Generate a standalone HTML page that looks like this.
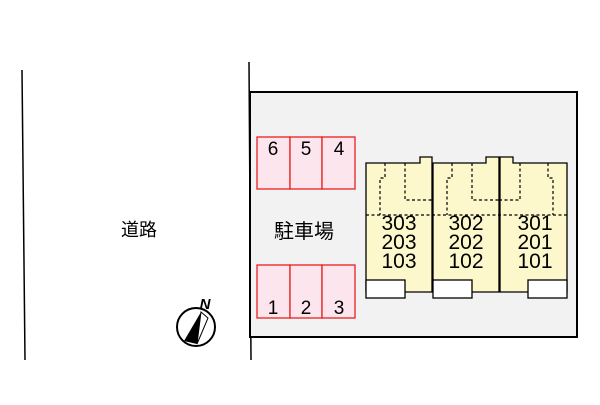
<!DOCTYPE html>
<html><head><style>body{margin:0;background:#fff}</style></head><body>
<svg width="600" height="400" xmlns="http://www.w3.org/2000/svg" font-family="Liberation Sans, Noto Sans CJK JP, sans-serif">
<line x1="22" y1="70" x2="25" y2="360" stroke="#000" stroke-width="1.5"/>
<line x1="249" y1="62" x2="251" y2="360" stroke="#000" stroke-width="1.5"/>
<rect x="250" y="92" width="327" height="245" fill="#f2f2f2" stroke="#000" stroke-width="2"/>
<text x="139" y="236" font-size="18" text-anchor="middle">道路</text>
<text x="304" y="238" font-size="20" text-anchor="middle">駐車場</text>
<g fill="#fde5ee" stroke="#e82020" stroke-width="1.3">
<rect x="257" y="137" width="33" height="52"/><rect x="290" y="137" width="32" height="52"/><rect x="322" y="137" width="33" height="52"/>
<rect x="257" y="265" width="33" height="53"/><rect x="290" y="265" width="32" height="53"/><rect x="322" y="265" width="33" height="53"/>
</g>
<g font-size="19" text-anchor="middle">
<text x="273" y="155">6</text><text x="306" y="155">5</text><text x="339" y="155">4</text>
<text x="273" y="314">1</text><text x="306" y="314">2</text><text x="339" y="314">3</text>
</g>
<g fill="#fcf8cc" stroke="#000" stroke-width="1.3">
<path d="M366 163H420V157H432V292H366Z"/>
<path d="M433 163H486V157H499V292H433Z"/>
<path d="M500 157H513V163H567V292H500Z"/>
</g>
<g fill="none" stroke="#000" stroke-width="1.2" stroke-dasharray="3,2.5">
<line x1="366" y1="215" x2="567" y2="215"/>
<path d="M385 163V178H380V215M405 163V200H432"/>
<path d="M452 163V178H447V215M472 163V200H499"/>
<path d="M520 163V200H500M548 163V178H553V215"/>
</g>
<g fill="#fff" stroke="#000" stroke-width="1.3">
<rect x="366" y="280" width="39" height="18"/><rect x="433" y="280" width="39" height="18"/><rect x="528" y="280" width="39" height="18"/>
</g>
<g font-size="21" text-anchor="middle">
<text x="399" y="230">303</text><text x="399" y="249">203</text><text x="399" y="268">103</text>
<text x="466" y="230">302</text><text x="466" y="249">202</text><text x="466" y="268">102</text>
<text x="535" y="230">301</text><text x="535" y="249">201</text><text x="535" y="268">101</text>
</g>
<circle cx="196" cy="327" r="19" fill="#fff" stroke="#000" stroke-width="2"/>
<path d="M184 341L201 312L197 344Z" fill="#000"/>
<path d="M201 312L208 318L197 344Z" fill="#fff" stroke="#000" stroke-width="1"/>
<text x="205" y="309" font-size="15" font-style="italic" font-weight="bold" text-anchor="middle">N</text>
</svg>
</body></html>
